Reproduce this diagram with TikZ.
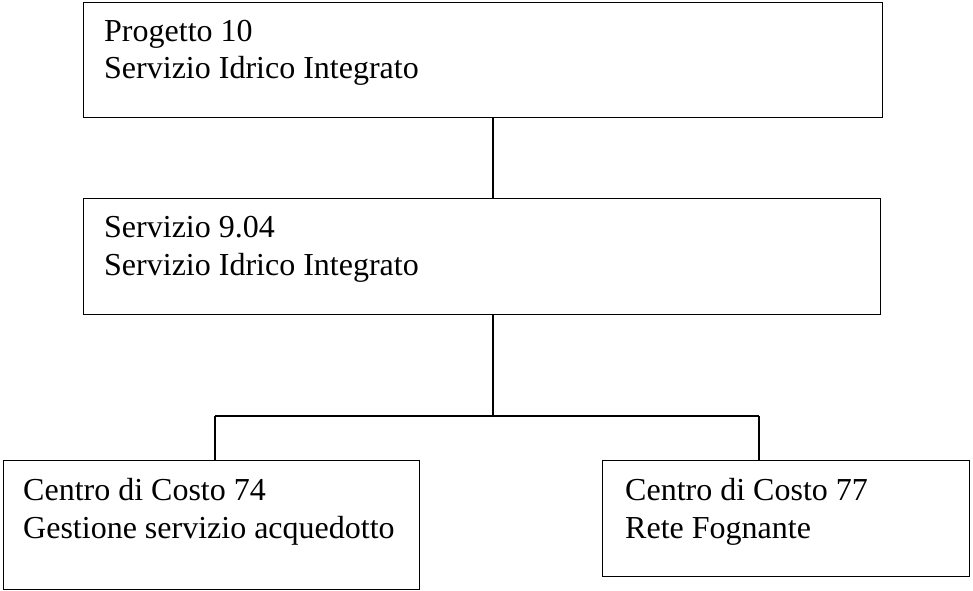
\documentclass[tikz,border=0pt]{standalone}
\usepackage{fontspec}
\setmainfont{Liberation Serif}
\usepackage{tikz}

\begin{document}
\begin{tikzpicture}
					[x=1pt,y=-1pt,
					box/.style={rectangle,draw=black,line width=1.2pt,anchor=north west,inner sep=0pt},
					txt/.style={anchor=north west,align=left,inner sep=0pt,font=\fontsize{32}{37.3}\selectfont},
					conn/.style={-,line width=1.3pt}]
					\useasboundingbox (0,0) rectangle (973,590);
					\node[box,minimum width=799pt,minimum height=115.5pt] (prog) at (83,1.5) {};
					\node[box,minimum width=797pt,minimum height=116pt] (serv) at (83,198) {};
					\node[box,minimum width=416pt,minimum height=129pt] (cc74) at (3,460) {};
					\node[box,minimum width=367pt,minimum height=116pt] (cc77) at (602,460) {};
					\node[txt] (progt) at (104,20.1) {Progetto 10\\Servizio Idrico Integrato};
					\node[txt] (servt) at (104,216.4) {Servizio 9.04\\Servizio Idrico Integrato};
					\node[txt] (cc74t) at (23,478.4) {Centro di Costo 74\\Gestione servizio acquedotto};
					\node[txt] (cc77t) at (625,478.4) {Centro di Costo 77\\Rete Fognante};
					\coordinate (mid) at (493,416);
					\coordinate (bl) at (215,416);
					\coordinate (br) at (759,416);
					\path (prog.south -| mid) edge[conn] (serv.north -| mid);
					\path (serv.south -| mid) edge[conn] (mid);
					\path (bl) edge[conn] (br);
					\path (bl) edge[conn] (bl |- cc74.north);
					\path (br) edge[conn] (br |- cc77.north);
\end{tikzpicture}
\end{document}
